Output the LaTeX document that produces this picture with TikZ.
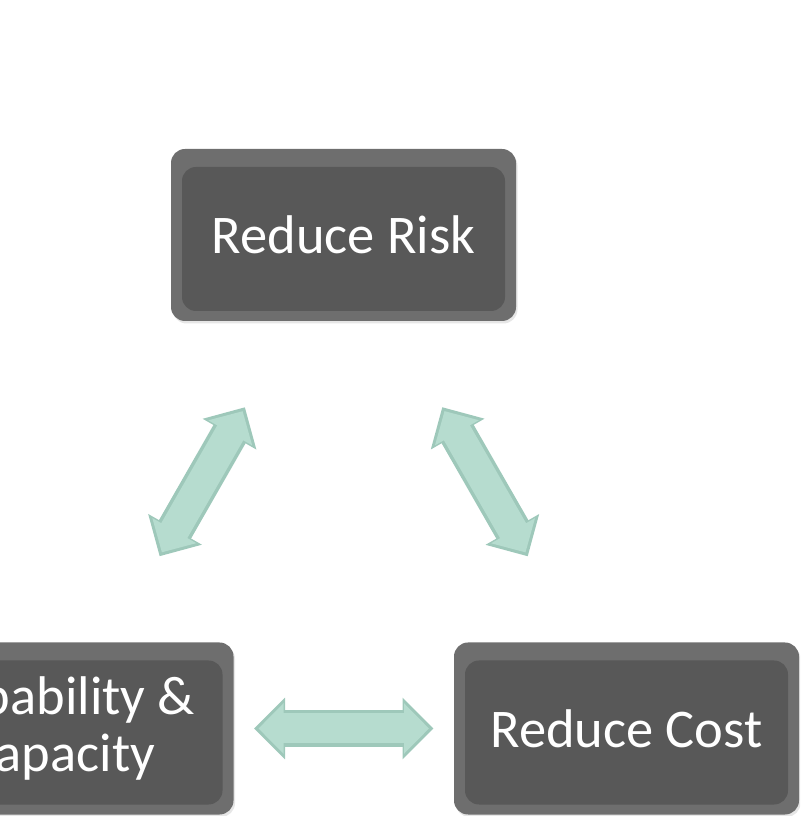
\documentclass[tikz,border=0pt]{standalone}
\usepackage{fontspec}
\setmainfont{Carlito}
\usepackage{tikz}
\usetikzlibrary{positioning, arrows.meta, shadows}

\definecolor{boxface}{RGB}{88,88,88}
\definecolor{boxedge}{RGB}{110,110,110}
\definecolor{arrowfill}{RGB}{182,220,207}
\definecolor{arrowedge}{RGB}{158,200,186}

\begin{document}
\begin{tikzpicture}[
    goalbox/.style={rectangle, rounded corners=0.28cm, fill=boxedge,
        minimum width=6.9cm, minimum height=3.44cm, inner sep=0pt,
        text=white, align=center, font=\fontsize{31}{32}\selectfont,
        drop shadow={opacity=0.2, shadow xshift=0.03cm, shadow yshift=-0.05cm},
        path picture={\fill[boxface]
            ([shift={(0.22,0.2)}]path picture bounding box.south west) rectangle
            ([shift={(-0.22,-0.36)}]path picture bounding box.north east);}},
    linkedge/.style={line width=0.74cm, draw=arrowedge,
        {Triangle[length=0.62cm, width=1.2cm]}-{Triangle[length=0.62cm, width=1.2cm]}},
    linkfill/.style={line width=0.6cm, draw=arrowfill,
        {Triangle[length=0.5cm, width=0.98cm]}-{Triangle[length=0.5cm, width=0.98cm]}}
]
    \useasboundingbox (0,0) rectangle (16,16.32);
    \clip (0,0) rectangle (16,16.32);

    % the three goals
    \node[goalbox] (risk) at (6.87,11.62) {Reduce Risk};
    \node[goalbox] (capab) at (1.22,1.75) {Capability \&\\Capacity};
    \node[goalbox] (cost) at (12.53,1.75) {Reduce Cost};

    % double arrows between the goals
    \foreach \a/\b/\s in {risk/capab/3.97, risk/cost/3.97, capab/cost/3.86} {
        \draw[linkedge, shorten <=\s cm, shorten >=\s cm] (\a.center) -- (\b.center);
        \draw[linkfill, shorten <=\s cm+0.09cm, shorten >=\s cm+0.09cm] (\a.center) -- (\b.center);
    }
\end{tikzpicture}
\end{document}
